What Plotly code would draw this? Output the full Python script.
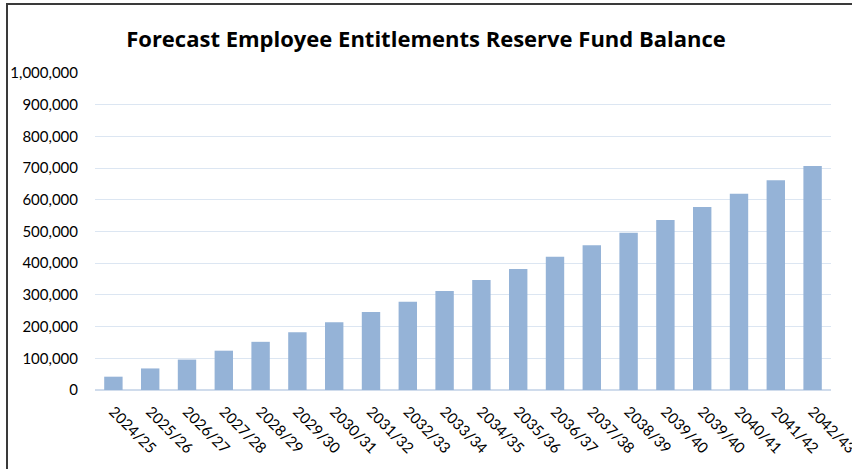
import plotly.graph_objects as go

# Financial years (2039/40 is listed twice in the source schedule)
years = ["2024/25", "2025/26", "2026/27", "2027/28", "2028/29", "2029/30",
         "2030/31", "2031/32", "2032/33", "2033/34", "2034/35", "2035/36",
         "2036/37", "2037/38", "2038/39", "2039/40", "2039/40", "2040/41",
         "2041/42", "2042/43"]

# Forecast reserve balance at year end ($)
balance = [42000, 68000, 96000, 124000, 152000, 182000, 214000, 246000,
           278000, 312000, 347000, 382000, 420000, 457000, 496000, 536000,
           577000, 619000, 662000, 707000]

y_ticks = [0, 100000, 200000, 300000, 400000, 500000, 600000, 700000,
           800000, 900000, 1000000]

positions = list(range(len(years)))

W, H = 852, 469
L, R, T, B = 95, 21, 73, 79
plot_w = W - L - R
plot_h = H - T - B

fig = go.Figure(
    go.Bar(
        x=positions,
        y=balance,
        marker=dict(color="#95b3d7", line=dict(width=0)),
        width=0.5,
    )
)

fig.update_layout(
    width=W,
    height=H,
    margin=dict(l=L, r=R, t=T, b=B, pad=0, autoexpand=False),
    paper_bgcolor="white",
    plot_bgcolor="white",
    showlegend=False,
    font=dict(family="Lato, 'Open Sans', sans-serif", color="#000000"),
    title=dict(
        text="<b>Forecast Employee Entitlements Reserve Fund Balance</b>",
        x=0.5,
        xanchor="center",
        xref="container",
        y=1 - 39 / H,
        yref="container",
        yanchor="middle",
        font=dict(size=22, family="'Open Sans', sans-serif", color="#000000"),
    ),
    xaxis=dict(
        tickmode="array",
        tickvals=positions,
        ticktext=years,
        tickangle=45,
        range=[-0.5, len(years) - 0.5],
        showgrid=False,
        showline=False,
        zeroline=False,
        ticks="",
        ticklabelstandoff=9,
        ticklabeloverflow="allow",
        automargin=False,
        tickfont=dict(size=15),
    ),
    yaxis=dict(
        range=[0, 1000000],
        tickmode="array",
        tickvals=y_ticks,
        tickformat=",d",
        showgrid=True,
        gridcolor="#dce6f2",
        gridwidth=1.3,
        zeroline=True,
        zerolinecolor="#d0dcec",
        zerolinewidth=1.5,
        showline=False,
        ticks="",
        ticklabelstandoff=16,
        automargin=False,
        tickfont=dict(size=15),
    ),
    shapes=[
        # frame around the chart area (top and left edges visible)
        dict(
            type="rect",
            xref="paper",
            yref="paper",
            x0=(7 - L) / plot_w,
            x1=1.2,
            y0=-0.5,
            y1=(H - B - 4) / plot_h,
            line=dict(color="#3a3a3a", width=2),
            fillcolor="rgba(0,0,0,0)",
            layer="above",
        )
    ],
)

fig.write_html("out.html")
